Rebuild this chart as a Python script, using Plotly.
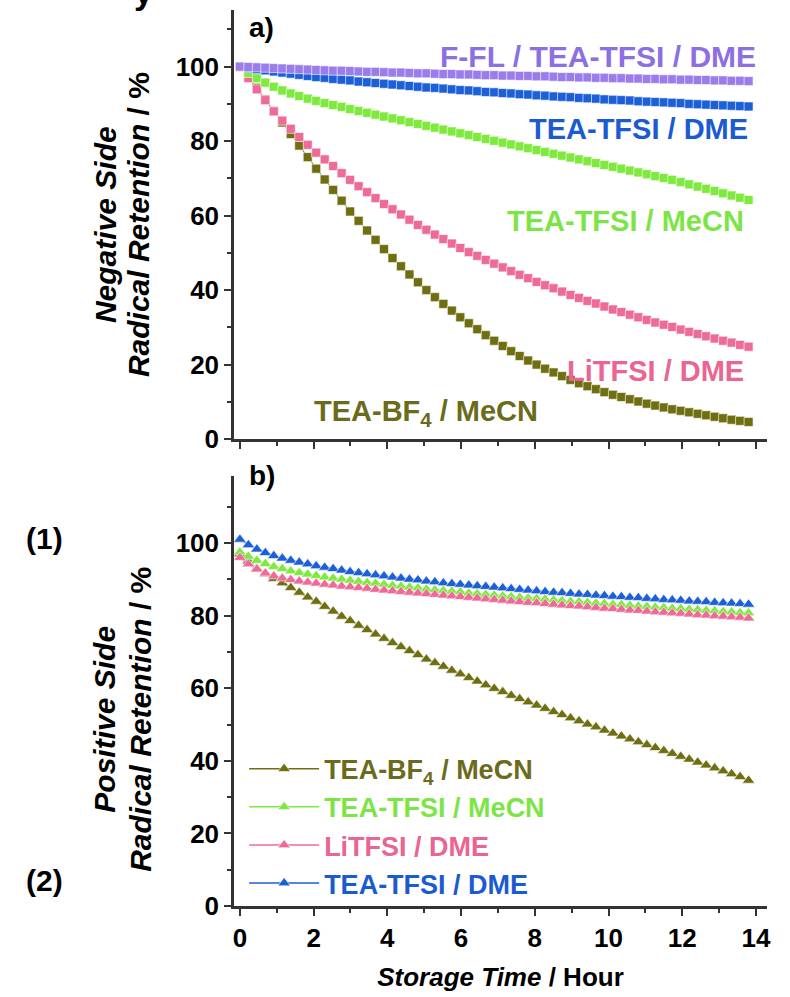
import plotly.graph_objects as go

# ---------------- data ----------------
time_h = [0, 0.23, 0.46, 0.69, 0.92, 1.15, 1.38, 1.61, 1.84, 2.07,
          2.3, 2.53, 2.76, 2.99, 3.22, 3.45, 3.68, 3.91, 4.14, 4.37,
          4.6, 4.83, 5.06, 5.29, 5.52, 5.75, 5.98, 6.21, 6.44, 6.67,
          6.9, 7.13, 7.36, 7.59, 7.82, 8.05, 8.28, 8.51, 8.74, 8.97,
          9.2, 9.43, 9.66, 9.89, 10.12, 10.35, 10.58, 10.81, 11.04, 11.27,
          11.5, 11.73, 11.96, 12.19, 12.42, 12.65, 12.88, 13.11, 13.34, 13.57, 13.8]

# (a) negative side
neg_ffl_tea_tfsi_dme = [100.0, 99.9, 99.8, 99.7, 99.6, 99.5, 99.4, 99.3, 99.2, 99.1,
                        99.0, 98.9, 98.9, 98.8, 98.7, 98.6, 98.6, 98.5, 98.4, 98.4,
                        98.3, 98.2, 98.2, 98.1, 98.0, 98.0, 97.9, 97.9, 97.8, 97.7,
                        97.7, 97.6, 97.6, 97.5, 97.5, 97.4, 97.4, 97.3, 97.2, 97.2,
                        97.1, 97.1, 97.0, 97.0, 96.9, 96.9, 96.8, 96.8, 96.7, 96.7,
                        96.6, 96.6, 96.5, 96.5, 96.4, 96.4, 96.3, 96.3, 96.2, 96.2, 96.1]
neg_tea_tfsi_dme = [100.0, 99.6, 99.3, 99.0, 98.7, 98.4, 98.1, 97.8, 97.5, 97.2,
                    97.0, 96.7, 96.5, 96.3, 96.0, 95.8, 95.6, 95.4, 95.2, 95.0,
                    94.8, 94.6, 94.4, 94.3, 94.1, 93.9, 93.7, 93.6, 93.4, 93.2,
                    93.1, 92.9, 92.8, 92.6, 92.5, 92.3, 92.2, 92.0, 91.9, 91.8,
                    91.6, 91.5, 91.4, 91.2, 91.1, 91.0, 90.9, 90.7, 90.6, 90.5,
                    90.4, 90.3, 90.2, 90.0, 89.9, 89.8, 89.7, 89.6, 89.5, 89.4, 89.3]
neg_tea_tfsi_mecn = [100.0, 98.3, 96.9, 95.7, 94.6, 93.6, 92.8, 92.1, 91.4, 90.8,
                     90.2, 89.7, 89.2, 88.6, 88.1, 87.6, 87.1, 86.6, 86.1, 85.6,
                     85.1, 84.6, 84.1, 83.6, 83.1, 82.6, 82.1, 81.6, 81.1, 80.6,
                     80.1, 79.6, 79.1, 78.6, 78.1, 77.6, 77.1, 76.6, 76.1, 75.6,
                     75.1, 74.6, 74.1, 73.6, 73.1, 72.6, 72.1, 71.6, 71.1, 70.6,
                     70.1, 69.6, 69.0, 68.4, 67.8, 67.2, 66.6, 66.0, 65.4, 64.8, 64.2]
neg_litfsi_dme = [100.0, 96.9, 93.9, 91.0, 88.0, 85.5, 83.3, 81.1, 79.0, 76.9,
                  75.1, 73.3, 71.4, 69.6, 67.9, 66.3, 64.7, 63.1, 61.7, 60.3,
                  58.9, 57.5, 56.2, 54.9, 53.7, 52.5, 51.3, 50.2, 49.2, 48.1,
                  47.1, 46.1, 45.1, 44.1, 43.2, 42.2, 41.3, 40.5, 39.6, 38.7,
                  37.9, 37.1, 36.4, 35.6, 34.8, 34.1, 33.4, 32.7, 32.0, 31.3,
                  30.7, 30.1, 29.4, 28.8, 28.2, 27.6, 27.0, 26.4, 25.9, 25.3, 24.8]
neg_tea_bf4_mecn = [100.0, 97.3, 94.3, 91.2, 88.0, 85.0, 81.9, 78.8, 75.7, 72.6,
                    69.7, 66.9, 64.0, 61.1, 58.6, 56.0, 53.5, 51.0, 48.6, 46.4,
                    44.2, 42.1, 40.0, 38.1, 36.3, 34.5, 32.7, 31.1, 29.5, 27.9,
                    26.4, 25.0, 23.6, 22.3, 21.1, 20.0, 18.9, 17.9, 16.9, 15.9,
                    15.0, 14.2, 13.4, 12.6, 11.9, 11.3, 10.7, 10.1, 9.5, 9.0,
                    8.5, 8.0, 7.6, 7.2, 6.8, 6.4, 6.0, 5.6, 5.2, 4.9, 4.6]

# (b) positive side
pos_tea_bf4_mecn = [97.0, 95.0, 93.0, 91.5, 90.2, 89.0, 87.7, 86.4, 85.1, 83.9,
                    82.5, 81.2, 79.8, 78.6, 77.3, 76.1, 74.9, 73.7, 72.5, 71.4,
                    70.3, 69.2, 68.0, 67.0, 66.0, 64.9, 63.9, 62.9, 61.9, 60.9,
                    59.9, 59.0, 58.0, 57.1, 56.2, 55.3, 54.4, 53.5, 52.7, 51.8,
                    51.0, 50.1, 49.3, 48.4, 47.6, 46.8, 46.0, 45.2, 44.4, 43.6,
                    42.8, 42.0, 41.2, 40.4, 39.6, 38.8, 38.0, 37.2, 36.4, 35.6, 34.6]
pos_tea_tfsi_mecn = [97.5, 96.3, 95.2, 94.3, 93.5, 92.9, 92.3, 91.8, 91.4, 91.0,
                     90.6, 90.3, 90.0, 89.7, 89.4, 89.1, 88.9, 88.6, 88.3, 88.1,
                     87.8, 87.6, 87.3, 87.1, 86.9, 86.7, 86.5, 86.2, 86.0, 85.8,
                     85.6, 85.4, 85.2, 85.0, 84.8, 84.7, 84.5, 84.3, 84.1, 83.9,
                     83.8, 83.6, 83.4, 83.3, 83.1, 83.0, 82.8, 82.6, 82.5, 82.3,
                     82.2, 82.0, 81.9, 81.7, 81.6, 81.4, 81.3, 81.1, 81.0, 80.8, 80.7]
pos_litfsi_dme = [96.0, 94.2, 92.8, 91.7, 90.9, 90.3, 89.9, 89.5, 89.2, 88.9,
                  88.6, 88.4, 88.1, 87.9, 87.7, 87.5, 87.2, 87.0, 86.8, 86.6,
                  86.4, 86.2, 86.0, 85.8, 85.6, 85.4, 85.2, 85.0, 84.8, 84.6,
                  84.4, 84.2, 84.0, 83.8, 83.6, 83.5, 83.3, 83.1, 82.9, 82.7,
                  82.6, 82.4, 82.2, 82.0, 81.9, 81.7, 81.5, 81.4, 81.2, 81.0,
                  80.9, 80.7, 80.6, 80.4, 80.2, 80.1, 79.9, 79.8, 79.6, 79.5, 79.3]
pos_tea_tfsi_dme = [101.0, 99.5, 98.3, 97.3, 96.5, 95.8, 95.2, 94.7, 94.2, 93.7,
                    93.3, 92.9, 92.5, 92.1, 91.8, 91.5, 91.2, 90.9, 90.6, 90.3,
                    90.0, 89.8, 89.5, 89.3, 89.0, 88.8, 88.6, 88.4, 88.2, 88.0,
                    87.8, 87.6, 87.4, 87.2, 87.0, 86.8, 86.6, 86.4, 86.3, 86.1,
                    85.9, 85.8, 85.6, 85.5, 85.3, 85.2, 85.0, 84.9, 84.7, 84.6,
                    84.4, 84.3, 84.2, 84.0, 83.9, 83.8, 83.6, 83.5, 83.4, 83.3, 83.1]

x_ticks = [0, 2, 4, 6, 8, 10, 12, 14]
y_ticks = [0, 20, 40, 60, 80, 100]

# ---------------- styling ----------------
C_PURPLE = "#9A7CEB"
C_BLUE = "#1C5FD9"
C_GREEN = "#7EEA3E"
C_PINK = "#EE6B98"
C_OLIVE = "#6F6F12"
T_PURPLE = "#8C6FE2"
T_BLUE = "#1B5BD0"
T_GREEN = "#7CE545"
T_PINK = "#EA6592"
T_OLIVE = "#6B6B1C"
FONT = "Liberation Sans"
AXC = "#333333"

fig = go.Figure()

neg_series = [
    (neg_tea_bf4_mecn, C_OLIVE),
    (neg_litfsi_dme, C_PINK),
    (neg_tea_tfsi_mecn, C_GREEN),
    (neg_tea_tfsi_dme, C_BLUE),
    (neg_ffl_tea_tfsi_dme, C_PURPLE),
]
for vals, col in neg_series:
    fig.add_trace(go.Scatter(
        x=time_h, y=vals, xaxis="x2", yaxis="y2", mode="lines+markers",
        line=dict(color=col, width=1),
        marker=dict(symbol="square", size=9, color=col,
                    line=dict(color="white", width=0.6)),
        showlegend=False, hoverinfo="skip"))

def lg(text, col):
    return f"<span style='color:{col}'>{text}</span>"

pos_series = [
    (pos_tea_bf4_mecn, C_OLIVE, lg("TEA-BF<sub>4</sub> / MeCN", T_OLIVE), 1),
    (pos_tea_tfsi_mecn, C_GREEN, lg("TEA-TFSI / MeCN", T_GREEN), 2),
    (pos_litfsi_dme, C_PINK, lg("LiTFSI / DME", T_PINK), 3),
    (pos_tea_tfsi_dme, C_BLUE, lg("TEA-TFSI / DME", T_BLUE), 4),
]
for vals, col, name, rank in pos_series:
    fig.add_trace(go.Scatter(
        x=time_h, y=vals, xaxis="x", yaxis="y", mode="lines+markers",
        name=name, legendrank=rank,
        line=dict(color=col, width=1.5),
        marker=dict(symbol="triangle-up", size=11, color=col,
                    line=dict(color="white", width=0.6)),
        hoverinfo="skip"))

axis_common = dict(
    showline=True, linecolor=AXC, linewidth=2.5, mirror=False,
    ticks="outside", ticklen=7, tickwidth=2, tickcolor=AXC,
    showgrid=False, zeroline=False,
    tickfont=dict(family=FONT, size=26, color="black", weight="bold"),
)

fig.update_layout(
    width=790, height=997,
    margin=dict(l=234, r=23, t=10, b=87),
    paper_bgcolor="white", plot_bgcolor="white",
    xaxis=dict(**axis_common, domain=[0, 1], anchor="y", range=[-0.16, 14.3],
               tickvals=x_ticks,
               minor=dict(dtick=1, tick0=0, ticks="outside", ticklen=4,
                          tickwidth=2, tickcolor=AXC),
               title=dict(text="<i>Storage Time</i> / Hour", standoff=16,
                          font=dict(family=FONT, size=26, color="black",
                                    weight="bold"))),
    xaxis2=dict(**axis_common, domain=[0, 1], anchor="y2", matches="x",
                range=[-0.16, 14.3], tickvals=x_ticks, showticklabels=False,
                minor=dict(dtick=1, tick0=0, ticks="outside", ticklen=4,
                           tickwidth=2, tickcolor=AXC)),
    yaxis=dict(**axis_common, domain=[0, 0.48], anchor="x", range=[0, 118.5],
               tickvals=y_ticks,
               minor=dict(dtick=10, tick0=0, ticks="outside", ticklen=4,
                          tickwidth=2, tickcolor=AXC)),
    yaxis2=dict(**axis_common, domain=[0.5211, 1], anchor="x2", range=[0, 115.2],
                tickvals=y_ticks,
                minor=dict(dtick=10, tick0=0, ticks="outside", ticklen=4,
                           tickwidth=2, tickcolor=AXC)),
    legend=dict(x=0.019, y=0.180, xanchor="left", yanchor="top",
                bgcolor="rgba(0,0,0,0)", borderwidth=0, tracegroupgap=0,
                itemwidth=70,
                font=dict(family=FONT, size=27, color="black", weight="bold")),
)

def ann(text, x, y, xref, yref, color, size=29, xanchor="center", yanchor="middle",
        angle=0):
    fig.add_annotation(text=text, x=x, y=y, xref=xref, yref=yref,
                       showarrow=False, xanchor=xanchor, yanchor=yanchor,
                       textangle=angle,
                       font=dict(family=FONT, size=size, color=color,
                                 weight="bold"))

# in-panel labels (panel a)
ann("F-FL / TEA-TFSI / DME", 14.05, 102.7, "x2", "y2", T_PURPLE, size=30, xanchor="right")
ann("TEA-TFSI / DME", 13.85, 83.2, "x2", "y2", T_BLUE, xanchor="right")
ann("TEA-TFSI / MeCN", 13.72, 58.6, "x2", "y2", T_GREEN, xanchor="right")
ann("LiTFSI / DME", 13.72, 18.4, "x2", "y2", T_PINK, xanchor="right")
ann("TEA-BF<sub>4</sub> / MeCN", 1.95, 7.0, "x2", "y2", T_OLIVE, xanchor="left")

# panel letters
ann("a)", 0.025, 1.0, "paper", "paper", "black", size=28, xanchor="left", yanchor="top")
ann("b)", 0.025, 0.5, "paper", "paper", "black", size=28, xanchor="left", yanchor="top")

# y-axis titles (one annotation per line)
ann("<i>Negative Side</i>", -0.242, 0.760, "paper", "paper", "black", size=30, angle=-90)
ann("<i>Radical Retention</i> / %", -0.180, 0.760, "paper", "paper", "black", size=30, angle=-90)
ann("<i>Positive Side</i>", -0.242, 0.208, "paper", "paper", "black", size=30, angle=-90)
ann("<i>Radical Retention</i> / %", -0.176, 0.208, "paper", "paper", "black", size=30, angle=-90)

# side markers
ann("(1)", -0.394, 0.410, "paper", "paper", "black", size=30, xanchor="left")
ann("(2)", -0.394, 0.029, "paper", "paper", "black", size=30, xanchor="left")

# clipped glyph at the very top of the picture
ann("y", -0.17, 0.9965, "paper", "paper", "black", size=34, yanchor="bottom")

fig.write_html("out.html")
